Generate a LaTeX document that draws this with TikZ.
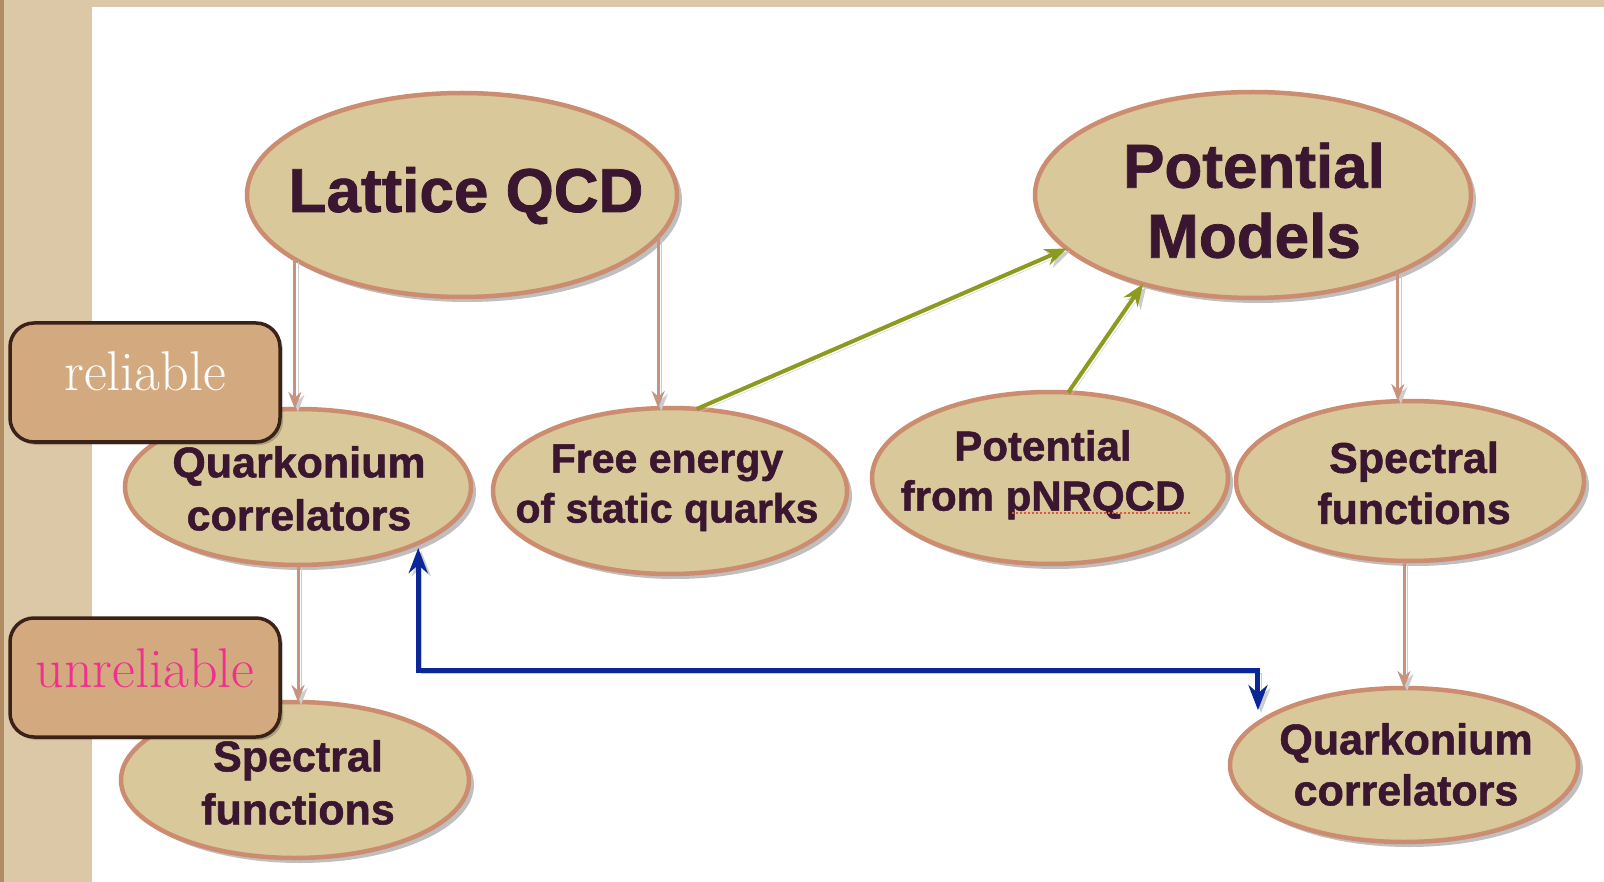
\documentclass[tikz,border=0pt]{standalone}
\usepackage{fontspec}
\newfontfamily\nodefont{Liberation Sans}[BoldFeatures={FakeBold=1.2}]
\usetikzlibrary{arrows.meta,shadows,shapes.geometric}

\definecolor{paper}{HTML}{DCC8A6}
\definecolor{paperedge}{HTML}{B18C62}
\definecolor{ovalfill}{HTML}{D8C89A}
\definecolor{ovaledge}{HTML}{CC8C70}
\definecolor{ink}{HTML}{3A1630}
\definecolor{linkbrown}{HTML}{C8937E}
\definecolor{linkgreen}{HTML}{8C9A1E}
\definecolor{linkblue}{HTML}{0B2698}
\definecolor{tagfill}{HTML}{D3AA80}
\definecolor{tagedge}{HTML}{3B2219}
\definecolor{tagpink}{HTML}{F0308E}
\definecolor{squiggle}{HTML}{D85A3A}

% depth strut so every multi-line label box ends at the same depth
\newcommand\lowstrut{\rule[-0.22em]{0pt}{0.22em}}

\tikzset{
  oval/.style={ellipse, draw=ovaledge, line width=4.5pt, fill=ovalfill,
    inner sep=0pt, outer sep=0pt,
    drop shadow={shadow xshift=5pt, shadow yshift=-5pt, opacity=0.25, fill=black}},
  ovaltext/.style={text=ink, align=center, inner sep=0pt,
    font=\nodefont\bfseries\fontsize{43}{53}\selectfont},
  bigtext/.style={ovaltext, font=\nodefont\bfseries\fontsize{62}{70}\selectfont},
  soft shadow/.style={preaction={draw=black!20, transform canvas={xshift=3pt,yshift=-3pt}}},
  brownlink/.style={draw=linkbrown, line width=3pt, soft shadow,
    -{Stealth[length=17pt,width=13pt]}},
  greenlink/.style={draw=linkgreen, line width=4pt, soft shadow,
    -{Stealth[length=22pt,width=17pt]}},
  bluelink/.style={draw=linkblue, line width=5pt, soft shadow,
    {Stealth[length=25pt,width=19pt]}-{Stealth[length=25pt,width=19pt]}},
  tag/.style={rectangle, rounded corners=24pt, draw=tagedge, line width=3.5pt,
    fill=tagfill, minimum width=270pt, minimum height=119pt,
    drop shadow={shadow xshift=3pt, shadow yshift=-3pt, opacity=0.2, fill=black}},
  tagtext/.style={inner sep=0pt, anchor=base, font=\rmfamily\fontsize{56}{60}\selectfont},
}

\begin{document}
\begin{tikzpicture}[x=1pt, y=-1pt]
  \useasboundingbox (0,0) rectangle (1604,882);

  % paper frame and slide area
  \fill[paper] (0,0) rectangle (1604,882);
  \fill[paperedge] (0,0) rectangle (4,882);
  \fill[white] (92,7) rectangle (1604,882);

  % ovals
  \node[oval, minimum width=430pt, minimum height=204pt] (lqcd) at (462,195) {};
  \node[oval, minimum width=436pt, minimum height=206pt] (pm)   at (1253,195) {};
  \node[oval, minimum width=346pt, minimum height=156pt] (qcl)  at (298,487) {};
  \node[oval, minimum width=354pt, minimum height=166pt] (fe)   at (670,491) {};
  \node[oval, minimum width=356pt, minimum height=172pt] (pnr)  at (1050,478) {};
  \node[oval, minimum width=348pt, minimum height=160pt] (sfr)  at (1410,481) {};
  \node[oval, minimum width=348pt, minimum height=156pt] (sfl)  at (295,780) {};
  \node[oval, minimum width=348pt, minimum height=154pt] (qcr)  at (1404,765) {};

  % oval labels
  \node[bigtext, anchor=base] (lqcd-t) at (466,212) {Lattice QCD};
  \node[bigtext] (pm-t) at (1254,207) {Potential\\Models\lowstrut};
  \node[ovaltext] (qcl-t) at (299,493) {Quarkonium\\correlators\lowstrut};
  \node[ovaltext, font=\nodefont\bfseries\fontsize{41}{50}\selectfont] (fe-t) at (667,488)
    {Free energy\\of static quarks\lowstrut};
  \node[ovaltext, font=\nodefont\bfseries\fontsize{42}{50}\selectfont] (pnr-t) at (1043,475)
    {Potential\\from pNRQCD\lowstrut};
  \node[ovaltext, font=\nodefont\bfseries\fontsize{43}{51}\selectfont] (sfr-t) at (1414,487.5)
    {Spectral\\functions\lowstrut};
  \node[ovaltext] (sfl-t) at (298,787) {Spectral\\functions\lowstrut};
  \node[ovaltext, font=\nodefont\bfseries\fontsize{43}{51}\selectfont] (qcr-t) at (1406,769)
    {Quarkonium\\correlators\lowstrut};

  % spell-check mark under pNRQCD
  \draw[squiggle, line width=1.4pt, dash pattern=on 2pt off 2pt] (1012,513) -- (1190,513);

  % downward links
  \draw[brownlink] (lqcd.201.9) -- (lqcd.201.9 |- qcl.north);
  \draw[brownlink] (lqcd.348.6) -- (lqcd.348.6 |- fe.north);
  \draw[brownlink] (pm.332.9) -- (pm.332.9 |- sfr.north);
  \draw[brownlink] (qcl.south) -- (qcl.south |- sfl.north);
  \draw[brownlink] (sfr.south -| qcr.north) -- (qcr.north);

  % links into the potential models
  \draw[greenlink] (fe.72.4) -- (pm.196.9);
  \draw[greenlink] (pnr.78.6) -- (pm.219.9);

  % comparison of the two correlator results
  \coordinate (bluerow) at (0,670);
  \draw[bluelink, shorten <=5pt, shorten >=13pt]
    (qcl.335.9) -- (qcl.335.9 |- bluerow) -- (qcr.164.7 |- bluerow) -- (qcr.164.7);

  % reliability tags
  \node[tag] (rel) at (145,382.5) {};
  \node[tagtext, text=white] (rel-t) at (145,391) {reliable};
  \node[tag] (unrel) at (145,677.5) {};
  \node[tagtext, text=tagpink] (unrel-t) at (145,687) {unreliable};
\end{tikzpicture}
\end{document}
